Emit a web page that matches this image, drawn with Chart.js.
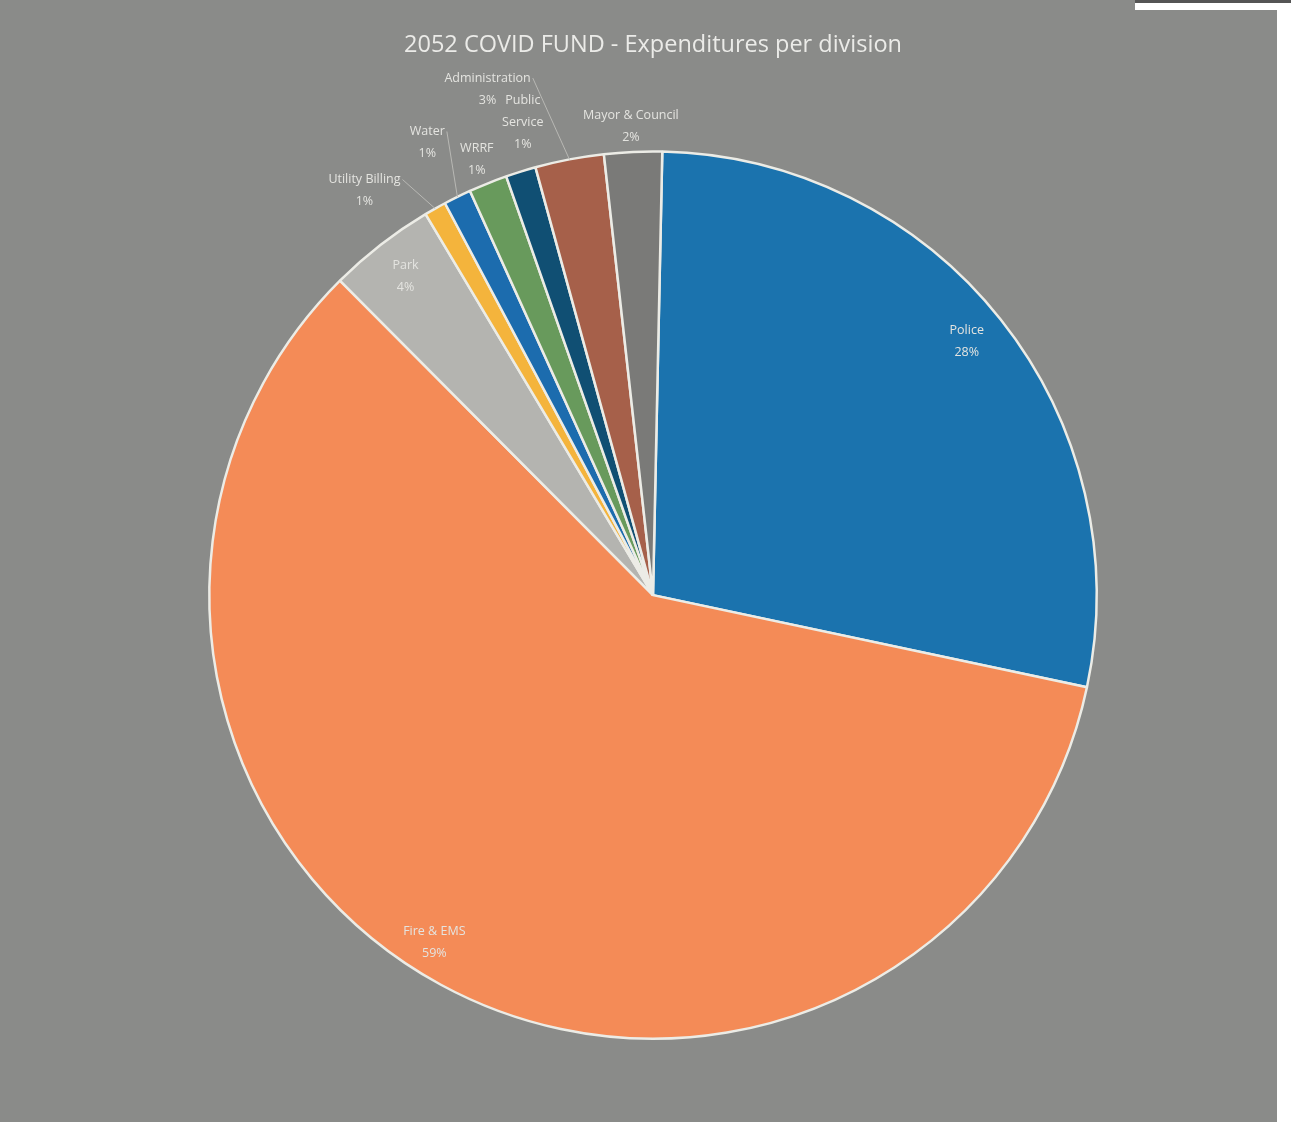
<!DOCTYPE html>
<html>
<head>
<meta charset="utf-8">
<script src="https://cdn.jsdelivr.net/npm/chart.js@4.4.1/dist/chart.umd.min.js"></script>
<style>
  html, body { margin: 0; padding: 0; background: #ffffff; }
  #frame { position: absolute; left: 0; top: 0; width: 1277px; height: 1122px; background: #8a8b89; }
  #notch { position: absolute; left: 1135px; top: 0; width: 156px; height: 10px; background: #ffffff; border-top: 3px solid #555; box-sizing: border-box; }
  #wrap { position: absolute; left: 0; top: 0; width: 1277px; height: 1122px; }
</style>
</head>
<body>
<div id="frame"></div>
<div id="notch"></div>
<div id="wrap"><canvas id="c" width="1277" height="1122"></canvas></div>
<script>
// ---- data ----
const chartTitle = '2052 COVID FUND - Expenditures per division';
const categories = ['Police', 'Fire & EMS', 'Park', 'Utility Billing', 'Water', 'WRRF', 'Public Service', 'Administration', 'Mayor & Council'];
const values = [28.0, 59.2, 3.9, 0.8, 1.0, 1.4, 1.1, 2.5, 2.1];
const sliceColors = ['#1b73ae', '#f48b57', '#b4b4b0', '#f4b43c', '#1c6cae', '#689a5c', '#104f73', '#a6604a', '#7a7a78'];

// label placement (angle in degrees clockwise from top, radius as fraction of pie radius)
const labelAngle  = [51.0, 212.2, 322.2, 324.5, 333.5, 338.0, 344.6, 341.9, 357.3];
const labelRadius = [0.91, 0.925, 0.91, 1.12, 1.14, 1.06, 1.105, 1.20, 1.057];
const labelWrap   = [null, null, null, null, null, null, ['Public', 'Service'], null, null];
const leaderLine  = [false, false, false, true, true, false, false, true, false];

const total = values.reduce((a, b) => a + b, 0);

const labelPlugin = {
  id: 'sliceLabels',
  afterDatasetsDraw(chart) {
    const ctx = chart.ctx;
    const meta = chart.getDatasetMeta(0);
    ctx.save();
    ctx.font = '12.5px "Open Sans", "DejaVu Sans", sans-serif';
    ctx.fillStyle = '#e4e4e0';
    ctx.strokeStyle = '#b8b8b4';
    ctx.lineWidth = 1;
    ctx.textAlign = 'center';
    ctx.textBaseline = 'middle';
    const lineH = 22;
    meta.data.forEach((arc, i) => {
      const cx = arc.x, cy = arc.y, R = arc.outerRadius;
      const a = labelAngle[i] * Math.PI / 180;
      const lx = cx + labelRadius[i] * R * Math.sin(a);
      const ly = cy - labelRadius[i] * R * Math.cos(a);
      const lines = (labelWrap[i] ? labelWrap[i].slice() : [categories[i]]);
      lines.push(Math.round(values[i] / total * 100) + '%');
      const y0 = ly - (lines.length - 1) * lineH / 2;
      lines.forEach((t, k) => ctx.fillText(t, lx, y0 + k * lineH));
      if (leaderLine[i]) {
        const mid = (arc.startAngle + arc.endAngle) / 2;
        const ex = cx + R * Math.cos(mid);
        const ey = cy + R * Math.sin(mid);
        const w = ctx.measureText(lines[0]).width;
        const sx = lx + w / 2 + 2;
        const sy = y0;
        ctx.beginPath();
        ctx.moveTo(sx, sy);
        ctx.lineTo(ex, ey);
        ctx.stroke();
      }
    });
    ctx.restore();
  }
};

new Chart(document.getElementById('c'), {
  type: 'pie',
  data: {
    labels: categories,
    datasets: [{
      data: values,
      backgroundColor: sliceColors,
      borderColor: '#ecece6',
      borderWidth: 2.5
    }]
  },
  options: {
    responsive: false,
    animation: false,
    rotation: 1.2,
    layout: { padding: { top: 20, bottom: 82, left: 208, right: 179 } },
    plugins: {
      legend: { display: false },
      tooltip: { enabled: false },
      title: {
        display: true,
        text: chartTitle,
        color: '#ebebe8',
        font: { size: 23.5, weight: 'normal', family: '"Open Sans", "DejaVu Sans", sans-serif' },
        padding: { top: 11, bottom: 91 }
      }
    }
  },
  plugins: [labelPlugin]
});
</script>
</body>
</html>
